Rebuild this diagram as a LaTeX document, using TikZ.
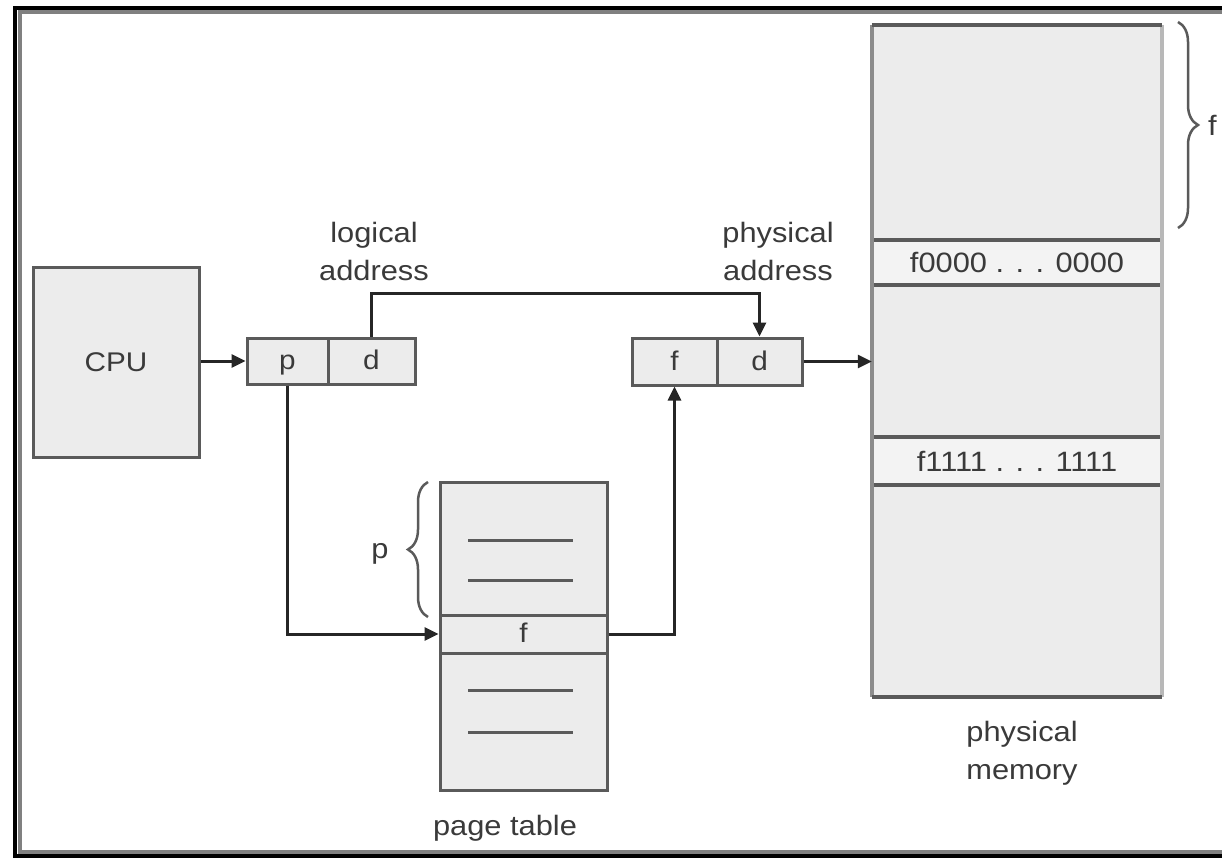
\documentclass[tikz,border=0pt]{standalone}
\usepackage{fontspec}
\setmainfont{Liberation Sans}[FakeStretch=1.1]
\usetikzlibrary{arrows.meta,decorations.pathreplacing,calc}
\definecolor{boxfill}{HTML}{ECECEC}
\definecolor{rowfill}{HTML}{F3F3F3}
\definecolor{boxline}{HTML}{5A5A5A}
\definecolor{txt}{HTML}{3A3A3A}
\begin{document}
\begin{tikzpicture}[x=1pt,y=-1pt,
  lbl/.style={font=\fontsize{28}{38}\selectfont, text=txt, align=center, inner sep=0pt},
  box/.style={draw=boxline, fill=boxfill, line width=3pt, inner sep=0pt, font=\fontsize{27}{30}\selectfont, text=txt, text height=19pt, text depth=2pt},
  conn/.style={line width=3pt, draw=black!85, -{Triangle[length=14pt,width=13pt]}},
  tickline/.style={line width=3pt, draw=boxline},
  brc/.style={decorate, decoration={brace, amplitude=20pt}, line width=2.5pt, draw=boxline}]

\useasboundingbox (0,0) rectangle (1222,858);
\begin{scope}
\clip (0,0) rectangle (1222,858);
\fill[white] (0,0) rectangle (1222,858);
\draw[line width=4pt, black] (15,8) rectangle (1240,856);
\draw[line width=4pt, black!50] (19.5,12.5) rectangle (1236,851.5);
\end{scope}

% CPU
\node[box, minimum width=166pt, minimum height=189pt] (cpu) at (116,362.5) {CPU};

% logical address
\node[box, minimum width=81pt, minimum height=46pt] (lp) at (287.5,361) {p};
\node[box, minimum width=87pt, minimum height=46pt] (ld) at (371.5,361) {d};
\node[lbl] (lal) at (374,251) {logical\\address};

% physical address
\node[box, minimum width=85pt, minimum height=47pt] (pf) at (674.5,361.5) {f};
\node[box, minimum width=85pt, minimum height=47pt] (pd) at (759.5,361.5) {d};
\node[lbl] (pal) at (778,251) {physical\\address};

% page table
\node[box, minimum width=167pt, minimum height=308pt] (pt) at (523.5,636) {};
\node[box, minimum width=167pt, minimum height=38pt] (ptf) at (523.5,634) {f};
\draw[tickline] (468,540) -- (573,540);
\draw[tickline] (468,580) -- (573,580);
\draw[tickline] (468,690) -- (573,690);
\draw[tickline] (468,732) -- (573,732);
\node[lbl] (ptl) at (505,828) {page table};
\draw[brc] (428,617) -- (428,482);
\node[lbl, text height=19pt, text depth=2pt] (pbl) at (380,550) {p};

% physical memory
\node[fill=boxfill, minimum width=290pt, minimum height=672pt, inner sep=0pt] (mem) at (1017,361) {};
\node[fill=rowfill, minimum width=290pt, minimum height=45pt, inner sep=0pt, lbl] (r0) at (1017,262.5) {f0000 . . . 0000};
\node[fill=rowfill, minimum width=290pt, minimum height=48pt, inner sep=0pt, lbl] (r1) at (1017,461) {f1111 . . . 1111};
\draw[line width=3.5pt, boxline] (r0.north west) -- (r0.north east);
\draw[line width=3.5pt, boxline] (r0.south west) -- (r0.south east);
\draw[line width=3.5pt, boxline] (r1.north west) -- (r1.north east);
\draw[line width=3.5pt, boxline] (r1.south west) -- (r1.south east);
\draw[line width=4pt, black!45] (mem.north west) -- (mem.south west);
\draw[line width=4pt, black!28] (mem.north east) -- (mem.south east);
\draw[line width=3.5pt, boxline] (mem.north west) -- (mem.north east);
\draw[line width=3.5pt, boxline] (mem.south west) -- (mem.south east);
\node[lbl] (pml) at (1022,753) {physical\\memory};
\draw[brc] (1178,22) -- (1178,228);
\node[lbl, anchor=west] (fbl) at (1208,125) {f};

% connectors
\draw[conn] (cpu.east |- lp.west) -- (lp.west);
\draw[conn] (ld.north) -- ++(0,-43) -| (pd.north);
\draw[conn] (lp.south) |- (ptf.west);
\draw[conn] (ptf.east) -| (pf.south);
\draw[conn] (pd.east) -- (mem.west |- pd.east);
\end{tikzpicture}
\end{document}
